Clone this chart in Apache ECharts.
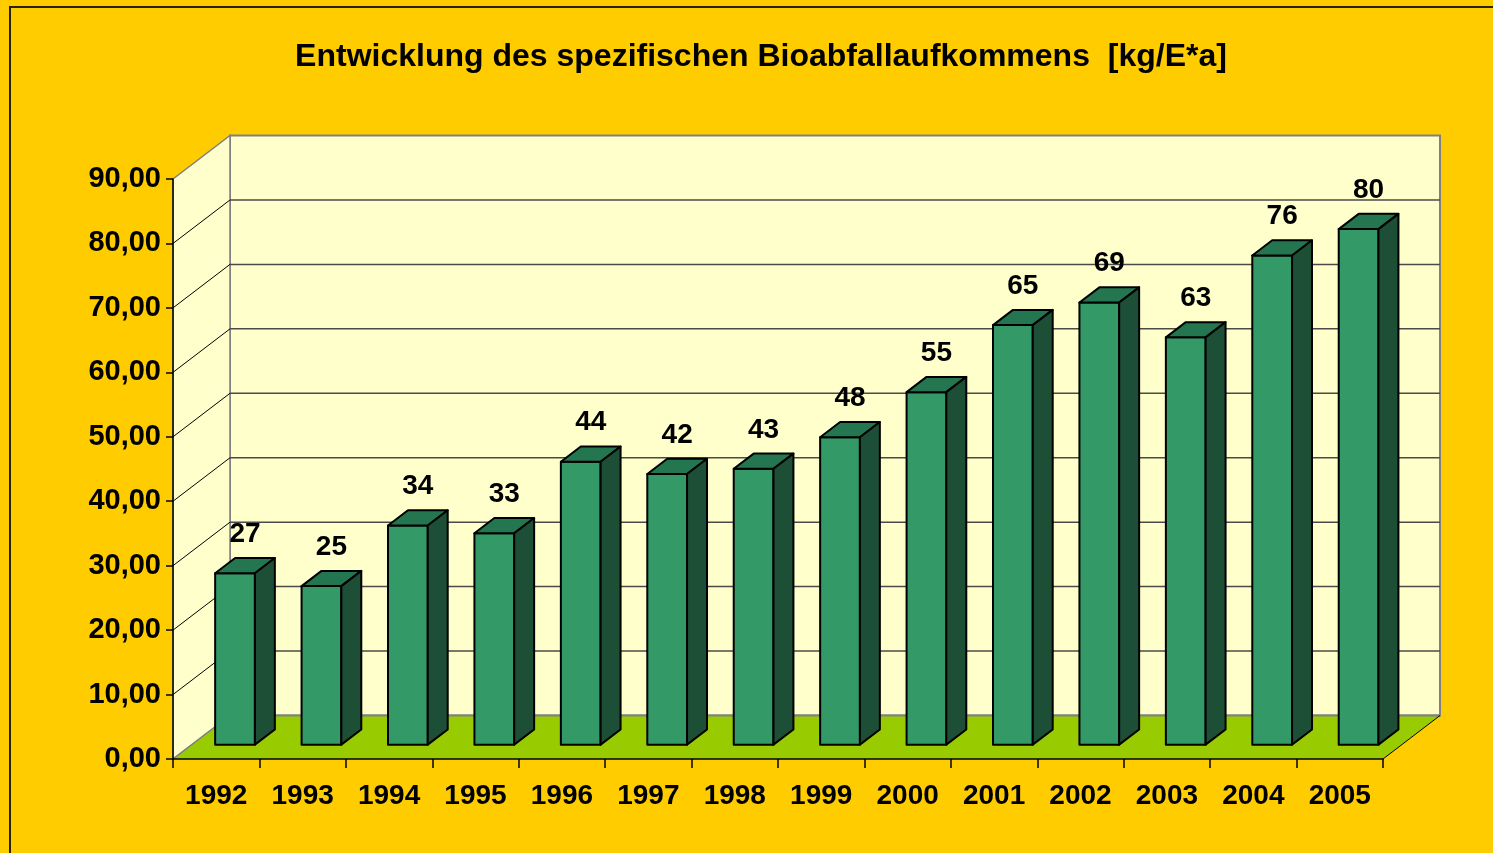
<!DOCTYPE html>
<html>
<head>
<meta charset="utf-8">
<title>Bioabfallaufkommen</title>
<script src="https://cdn.jsdelivr.net/npm/echarts@6/dist/echarts.min.js"></script>
<style>
  html, body { margin: 0; padding: 0; background: #FFCC00; }
  #main { width: 1493px; height: 853px; }
</style>
</head>
<body>
<div id="main"></div>
<script>
// --- Daten ---
const titleText = 'Entwicklung des spezifischen Bioabfallaufkommens  [kg/E*a]';
const years = ['1992', '1993', '1994', '1995', '1996', '1997', '1998',
  '1999', '2000', '2001', '2002', '2003', '2004', '2005'];
const amounts = [26.6, 24.6, 34.0, 32.8, 43.9, 42.0, 42.8,
  47.7, 54.7, 65.1, 68.6, 63.2, 75.9, 80.0];
const yMin = 0;
const yMax = 90;
const yStep = 10;

// 3D-Tiefe (Pixel) und Lage der Säulen in der Tiefe
const DX = 57, DY = -43.5;
const F1 = 0.33, F2 = 0.68;
const BAR_FRAC = 0.46;
const FONT = '"Liberation Sans", Arial, sans-serif';

const chart = echarts.init(document.getElementById('main'));

// Wände, Boden und Gitterlinien
function renderWalls(params, api) {
  const cs = params.coordSys;
  const x0 = cs.x, x1 = cs.x + cs.width;
  const yb = api.coord([0, yMin])[1];
  const yt = api.coord([0, yMax])[1];
  const kids = [];
  kids.push({
    type: 'polygon',
    shape: { points: [[x0 + DX, yt + DY], [x1 + DX, yt + DY], [x1 + DX, yb + DY], [x0 + DX, yb + DY]] },
    style: { fill: '#FFFFCC', stroke: '#808080', lineWidth: 2 }
  });
  kids.push({
    type: 'polygon',
    shape: { points: [[x0, yt], [x0 + DX, yt + DY], [x0 + DX, yb + DY], [x0, yb]] },
    style: { fill: '#FFFFCC', stroke: '#808080', lineWidth: 1.5 }
  });
  kids.push({
    type: 'polygon',
    shape: { points: [[x0, yb], [x1, yb], [x1 + DX, yb + DY], [x0 + DX, yb + DY]] },
    style: { fill: '#99CC00' }
  });
  // Bodenkanten
  kids.push({ type: 'line', shape: { x1: x0 + DX, y1: yb + DY, x2: x1 + DX, y2: yb + DY },
    style: { stroke: '#808080', lineWidth: 2 } });
  kids.push({ type: 'line', shape: { x1: x0, y1: yb, x2: x0 + DX, y2: yb + DY },
    style: { stroke: '#808080', lineWidth: 1.5 } });
  kids.push({ type: 'line', shape: { x1: x1, y1: yb, x2: x1 + DX, y2: yb + DY },
    style: { stroke: '#000', lineWidth: 1 } });
  for (let v = yMin + yStep; v < yMax; v += yStep) {
    const y = api.coord([0, v])[1];
    kids.push({ type: 'line', shape: { x1: x0, y1: y, x2: x0 + DX, y2: y + DY },
      style: { stroke: '#000', lineWidth: 1 } });
    kids.push({ type: 'line', shape: { x1: x0 + DX, y1: y + DY, x2: x1 + DX, y2: y + DY },
      style: { stroke: '#4a4a4a', lineWidth: 1.5 } });
  }
  return { type: 'group', children: kids };
}

// 3D-Säule
function renderBar(params, api) {
  const idx = api.value(0), v = api.value(1);
  const base = api.coord([idx, yMin]);
  const top = api.coord([idx, v]);
  const w = api.size([1, 0])[0] * BAR_FRAC;
  const fx = base[0] - w / 2 + DX * F1;
  const fy0 = base[1] + DY * F1;
  const fy1 = top[1] + DY * F1;
  const ddx = DX * (F2 - F1), ddy = DY * (F2 - F1);
  const edge = { stroke: '#000', lineWidth: 2, lineJoin: 'round' };
  return {
    type: 'group',
    children: [
      { type: 'polygon', shape: { points: [[fx, fy1], [fx + w, fy1], [fx + w, fy0], [fx, fy0]] },
        style: Object.assign({ fill: '#339966' }, edge) },
      { type: 'polygon', shape: { points: [[fx, fy1], [fx + ddx, fy1 + ddy], [fx + w + ddx, fy1 + ddy], [fx + w, fy1]] },
        style: Object.assign({ fill: '#247650' }, edge) },
      { type: 'polygon', shape: { points: [[fx + w, fy1], [fx + w + ddx, fy1 + ddy], [fx + w + ddx, fy0 + ddy], [fx + w, fy0]] },
        style: Object.assign({ fill: '#1D4E36' }, edge) },
      { type: 'text', x: fx + w / 2 + ddx / 2, y: fy1 - 39,
        style: { text: String(Math.round(v)), textAlign: 'center', textVerticalAlign: 'middle',
          font: 'bold 28px ' + FONT, fill: '#000' } }
    ]
  };
}

chart.setOption({
  backgroundColor: '#FFCC00',
  animation: false,
  graphic: [
    { type: 'rect', shape: { x: 10, y: 7, width: 1600, height: 1000 },
      style: { fill: 'none', stroke: '#2b2200', lineWidth: 2 }, z: 100 },
    { type: 'text', x: 761, y: 57,
      style: { text: titleText, textAlign: 'center', textVerticalAlign: 'middle',
        font: 'bold 32px ' + FONT, fill: '#000' } }
  ],
  grid: { left: 173, right: 110, top: 179, bottom: 94 },
  xAxis: {
    type: 'category',
    data: years,
    z: 10,
    axisLine: { lineStyle: { color: '#000', width: 1.5 } },
    axisTick: { show: true, length: 9, lineStyle: { color: '#000', width: 1.5 } },
    axisLabel: { margin: 23, color: '#000', fontSize: 28, fontWeight: 'bold', fontFamily: FONT },
    splitLine: { show: false }
  },
  yAxis: {
    type: 'value',
    min: yMin,
    max: yMax,
    interval: yStep,
    z: 10,
    axisLine: { show: true, lineStyle: { color: '#000', width: 1.5 } },
    axisTick: { show: true, length: 7, lineStyle: { color: '#000', width: 1.5 } },
    axisLabel: {
      margin: 12, color: '#000', fontSize: 29, fontWeight: 'bold', fontFamily: FONT,
      formatter: v => v.toFixed(2).replace('.', ',')
    },
    splitLine: { show: false }
  },
  series: [
    {
      type: 'custom',
      renderItem: renderWalls,
      data: [[0, 0]],
      silent: true,
      z: 1
    },
    {
      type: 'custom',
      renderItem: renderBar,
      data: years.map((y, i) => [i, amounts[i]]),
      encode: { x: 0, y: 1 },
      z: 2
    }
  ]
});
</script>
</body>
</html>
